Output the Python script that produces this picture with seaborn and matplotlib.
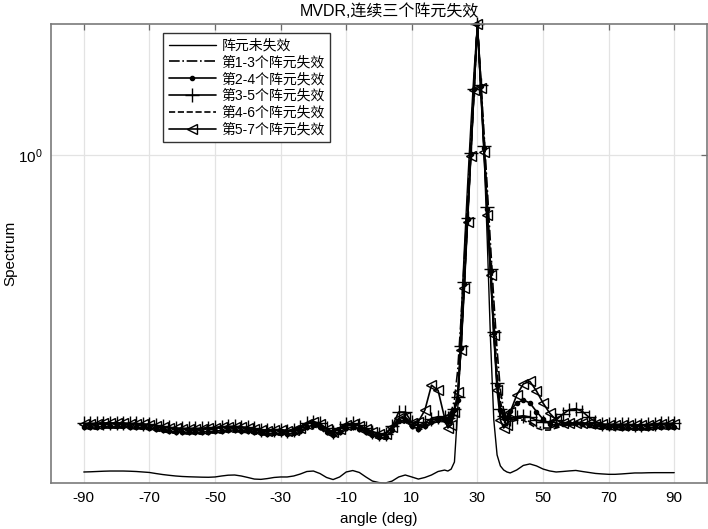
import matplotlib
matplotlib.use("Agg")
import matplotlib.pyplot as plt
import seaborn as sns
from matplotlib.ticker import FixedLocator, NullLocator, LogFormatterSciNotation

# x grid (deg)
angles = list(range(-90, 21, 2)) + list(range(21, 40)) + list(range(40, 91, 2))

labels = ["阵元未失效", "第1-3个阵元失效", "第2-4个阵元失效",
          "第3-5个阵元失效", "第4-6个阵元失效", "第5-7个阵元失效"]

intact = [
    .2109, .2111, .2114, .2117, .2119, .2119, .2119, .2117, .2114, .2109,
    .2104, .2093, .2083, .2075, .2068, .2063, .2060, .2058, .2056, .2055,
    .2058, .2068, .2076, .2078, .2068, .2053, .2037, .2034, .2042, .2053,
    .2058, .2058, .2068, .2088, .2114, .2119, .2093, .2053, .2032, .2058,
    .2109, .2124, .2104, .2058, .2017, .2002, .1998, .2017, .2058, .2078,
    .2058, .2037, .2053, .2078, .2114, .2129,
    .2119, .2139, .2215, .2859, .4447, .6272, .8630, 1.159, 1.518, 1.902,
    1.481, 1.025, .6588, .4031, .2723, .2293, .2173, .2130, .2109,
    .2099, .2130, .2178, .2194, .2173, .2140, .2120, .2109, .2114, .2120,
    .2125, .2114, .2104, .2094, .2089, .2085, .2085, .2089, .2094, .2099,
    .2099, .2101, .2102, .2102, .2102, .2102]

fail_1_3 = [
    .2656, .2656, .2656, .2663, .2663, .2663, .2663, .2656, .2656, .2650,
    .2643, .2630, .2617, .2604, .2598, .2591, .2591, .2591, .2591, .2598,
    .2604, .2611, .2617, .2617, .2611, .2604, .2591, .2578, .2572, .2578,
    .2578, .2565, .2578, .2604, .2656, .2682, .2656, .2591, .2552, .2591,
    .2643, .2656, .2630, .2591, .2552, .2526, .2526, .2617, .2734, .2747,
    .2669, .2630, .2669, .2721, .2747, .2747,
    .2734, .2831, .3003, .3479, .4447, .5973, .8017, 1.076, 1.445, 1.902,
    1.459, 1.120, .8504, .6428, .4907, .3838, .3154, .2859, .2747,
    .2721, .2747, .2747, .2695, .2643, .2617, .2617, .2643, .2682, .2695,
    .2695, .2682, .2669, .2663, .2650, .2643, .2643, .2643, .2643, .2637,
    .2637, .2643, .2650, .2656, .2656, .2656]

fail_2_4 = [
    .2630, .2630, .2630, .2637, .2637, .2637, .2637, .2630, .2630, .2624,
    .2617, .2604, .2591, .2578, .2572, .2565, .2565, .2565, .2565, .2572,
    .2578, .2585, .2591, .2591, .2585, .2578, .2565, .2552, .2546, .2552,
    .2552, .2539, .2552, .2578, .2630, .2656, .2630, .2565, .2526, .2565,
    .2617, .2630, .2604, .2565, .2526, .2500, .2500, .2591, .2708, .2721,
    .2643, .2604, .2643, .2695, .2721, .2721,
    .2708, .2760, .2859, .3003, .3877, .5307, .7306, 1.005, 1.382, 1.902,
    1.403, 1.035, .7672, .5657, .4173, .3232, .2859, .2747, .2747,
    .2851, .2960, .3003, .2960, .2838, .2734, .2669, .2650, .2669, .2682,
    .2682, .2669, .2656, .2643, .2630, .2624, .2624, .2617, .2617, .2611,
    .2611, .2617, .2624, .2630, .2630, .2630]

fail_3_5 = [
    .2676, .2676, .2676, .2683, .2683, .2683, .2683, .2676, .2676, .2670,
    .2663, .2650, .2637, .2624, .2618, .2611, .2611, .2611, .2611, .2618,
    .2624, .2631, .2637, .2637, .2631, .2624, .2611, .2598, .2592, .2598,
    .2598, .2585, .2598, .2624, .2676, .2702, .2676, .2611, .2572, .2611,
    .2663, .2676, .2650, .2611, .2572, .2546, .2546, .2637, .2830, .2830,
    .2689, .2650, .2689, .2741, .2767, .2767,
    .2754, .2790, .2870, .3050, .3920, .5350, .7350, 1.010, 1.385, 1.902,
    1.410, 1.045, .7750, .5700, .4200, .3260, .2880, .2780, .2740,
    .2741, .2767, .2780, .2760, .2720, .2700, .2700, .2721, .2799, .2864,
    .2877, .2838, .2760, .2695, .2669, .2663, .2663, .2663, .2663, .2656,
    .2656, .2663, .2670, .2676, .2676, .2676]

fail_4_6 = [
    .2610, .2610, .2610, .2617, .2617, .2617, .2617, .2610, .2610, .2604,
    .2597, .2584, .2571, .2558, .2552, .2545, .2545, .2545, .2545, .2552,
    .2558, .2565, .2571, .2571, .2565, .2558, .2545, .2532, .2526, .2532,
    .2532, .2519, .2532, .2558, .2610, .2636, .2610, .2545, .2506, .2545,
    .2597, .2610, .2584, .2545, .2506, .2480, .2480, .2571, .2688, .2701,
    .2623, .2584, .2623, .2675, .2701, .2701,
    .2688, .2740, .2830, .3000, .3900, .5350, .7350, 1.010, 1.390, 1.902,
    1.420, 1.070, .8017, .5911, .4405, .3445, .2976, .2799, .2721,
    .2695, .2721, .2721, .2669, .2617, .2591, .2591, .2617, .2643, .2656,
    .2656, .2643, .2630, .2617, .2604, .2598, .2598, .2598, .2598, .2591,
    .2591, .2598, .2604, .2610, .2610, .2610]

fail_5_7 = [
    .2669, .2669, .2669, .2676, .2676, .2676, .2676, .2669, .2669, .2663,
    .2656, .2643, .2630, .2617, .2611, .2604, .2604, .2604, .2604, .2611,
    .2617, .2624, .2630, .2630, .2624, .2617, .2604, .2591, .2585, .2591,
    .2591, .2578, .2591, .2617, .2669, .2695, .2669, .2604, .2565, .2604,
    .2656, .2669, .2643, .2604, .2565, .2539, .2539, .2630, .2747, .2760,
    .2682, .2700, .2859, .3230, .3150, .2749,
    .2617, .2656, .2831, .3124, .3838, .5204, .7197, .9951, 1.376, 1.902,
    1.389, 1.015, .7449, .5548, .4132, .3154, .2723, .2617, .2656,
    .2830, .3078, .3250, .3290, .3140, .2960, .2818, .2723, .2682, .2682,
    .2682, .2682, .2676, .2669, .2663, .2656, .2656, .2656, .2656, .2650,
    .2650, .2656, .2663, .2669, .2669, .2669]

series = [intact, fail_1_3, fail_2_4, fail_3_5, fail_4_6, fail_5_7]
xticks = [-90, -70, -50, -30, -10, 10, 30, 50, 70, 90]

sns.set_style("white")
plt.rcParams['font.family'] = ['Liberation Sans', 'Noto Sans CJK SC', 'DejaVu Sans']
plt.rcParams['axes.unicode_minus'] = False
plt.rcParams['text.color'] = 'black'
plt.rcParams['axes.labelcolor'] = 'black'

fig = plt.figure(figsize=(7.08, 5.29), dpi=100)
ax = fig.add_axes([51 / 708, 46 / 529, 656 / 708, 459 / 529])

styles = [
    dict(linestyle='-', lw=1.0),
    dict(linestyle='-.', lw=1.2),
    dict(linestyle='-', lw=1.2, marker='.', markersize=6),
    dict(linestyle='-', lw=1.2, marker='+', markersize=10),
    dict(linestyle='--', lw=1.2),
    dict(linestyle='-', lw=1.2, marker='<', markersize=7.5, markerfacecolor='none'),
]

for vals, lab, st in zip(series, labels, styles):
    sns.lineplot(x=angles, y=vals, ax=ax, color='black', label=lab,
                 markeredgecolor='black', markeredgewidth=1.0, clip_on=False,
                 sort=False, **st)

ax.set_yscale('log')
allv = [v for s in series for v in s]
ax.set_ylim(min(allv), max(allv))
ax.set_xlim(-100, 100)
ax.set_xticks(xticks)
ax.set_xticklabels([str(t) for t in xticks])
ax.yaxis.set_major_locator(FixedLocator([1.0]))
ax.yaxis.set_major_formatter(LogFormatterSciNotation())
ax.yaxis.set_minor_locator(NullLocator())
ax.xaxis.set_minor_locator(NullLocator())

ax.grid(True, which='major', color='#e3e3e3', lw=0.9)
ax.set_axisbelow(True)
for sp in ax.spines.values():
    sp.set_visible(True)
    sp.set_color('#7a7a7a')
    sp.set_linewidth(1.2)
ax.tick_params(axis='both', which='major', direction='in', top=True, right=True,
               length=4, width=0.9, color='#6a6a6a', labelsize=11,
               labelcolor='black', pad=6)

ax.set_xlabel('angle (deg)', fontsize=11, labelpad=5, color='black')
ax.set_ylabel('Spectrum', fontsize=11, color='black')
ax.yaxis.set_label_coords((17 - 51) / 656, 0.5)
t = ax.set_title('MVDR,连续三个阵元失效', fontsize=11.5, pad=6, color='black')
t.set_x((389 - 51) / 656)

leg = ax.legend(loc='upper left', bbox_to_anchor=((163 - 51) / 656, (483 - 33) / 459),
                borderaxespad=0, fontsize=10, handlelength=3.4, handletextpad=0.4,
                labelspacing=0.2, borderpad=0.4, fancybox=False, framealpha=1,
                edgecolor='#333333', numpoints=1, labelcolor='black')
leg.get_frame().set_linewidth(1.0)

fig.savefig('out.png', dpi=100, facecolor='white')
